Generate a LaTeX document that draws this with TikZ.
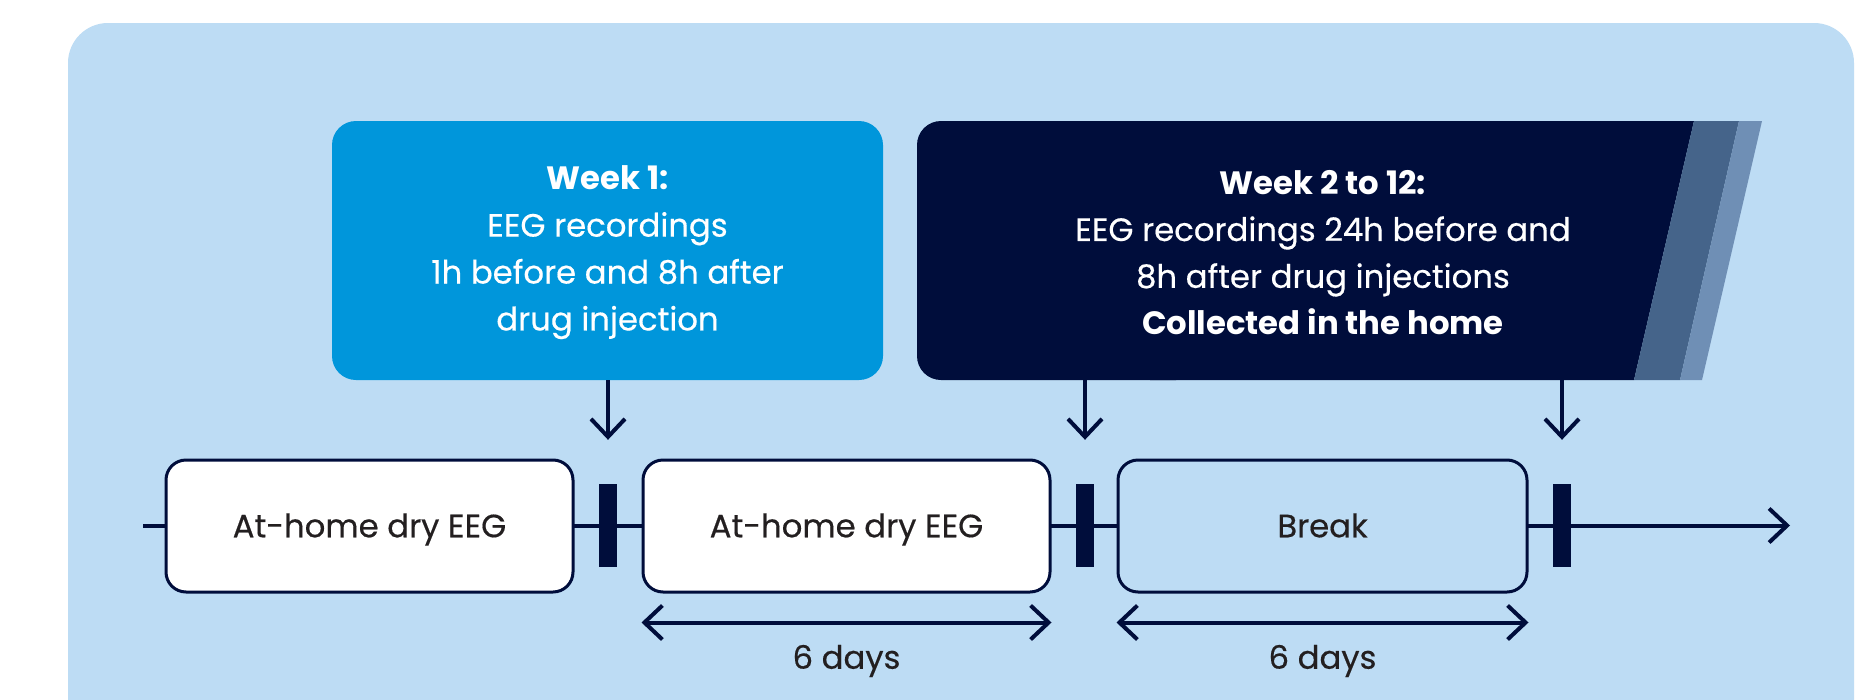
\documentclass[tikz,border=0pt]{standalone}
\usepackage{fontspec}
\setmainfont{Poppins}[UprightFeatures={FakeBold=0.4}]
\usetikzlibrary{arrows.meta}

\definecolor{panel}{HTML}{BDDCF4}
\definecolor{weekone}{HTML}{0096DB}
\definecolor{navy}{HTML}{000D3B}
\definecolor{stripemid}{HTML}{45648A}
\definecolor{stripelight}{HTML}{6F8FB5}
\definecolor{ink}{HTML}{231F20}

\tikzset{
  txt/.style={font=\fontsize{32.3pt}{46.9pt}\selectfont, align=center},
  card/.style={txt, text=white, inner sep=0pt, minimum width=551pt, minimum height=259pt},
  phase/.style={txt, text=ink, draw=navy, line width=3pt, rounded corners=20pt,
                minimum width=407pt, minimum height=132pt, inner sep=0pt,
                text height=22.5pt, text depth=0pt},
  tick/.style={fill=navy, inner sep=0pt, minimum width=18pt, minimum height=83pt},
  conn/.style={draw=navy, line width=4pt},
  tip/.style={-{Straight Barb[length=18pt,width=34pt]}},
  span/.style={{Straight Barb[length=18pt,width=34pt]}-{Straight Barb[length=18pt,width=34pt]}},
  lbl/.style={txt, text=ink, inner sep=0pt, text height=22.5pt, text depth=0pt},
}

\begin{document}
\begin{tikzpicture}[x=1pt,y=-1pt]
\useasboundingbox (0,0) rectangle (1872,699);
\fill[white] (0,0) rectangle (1872,699);

% light panel behind everything, running off the bottom edge
\begin{scope}
  \clip (0,0) rectangle (1872,699);
  \fill[panel, rounded corners=40pt] (68,23) rectangle (1854,780);
\end{scope}

% week 1 card
\node[card, fill=weekone, rounded corners=24pt] (w1) at (607.5,250.5) {};
\node[txt, text=white, inner sep=0pt] (w1txt) at (607.5,252.5)
  {\bfseries Week 1:\\EEG recordings\\1h before and 8h after\\drug injection};

% weeks 2-12 card: rounded left side, slanted right edge with two stripes
\fill[navy, rounded corners=24pt] (917,121) rectangle (1200,380);
\fill[navy] (1150,121) -- (1694,121) -- (1634,380) -- (1150,380) -- cycle;
\fill[stripemid] (1694,121) -- (1739,121) -- (1680,380) -- (1634,380) -- cycle;
\fill[stripelight] (1739,121) -- (1762,121) -- (1702,380) -- (1680,380) -- cycle;
\node[inner sep=0pt, minimum width=777pt, minimum height=259pt] (w2) at (1305.5,250.5) {};
\node[txt, text=white, inner sep=0pt] (w2txt) at (1323,252.5)
  {\bfseries Week 2 to 12:\\EEG recordings 24h before and\\8h after drug injections\\\bfseries Collected in the home};

% timeline axis
\coordinate (axstart) at (143,525.5);
\coordinate (axend) at (1790,525.5);
\draw[conn, tip] (axstart) -- (axend);

% phases on the axis
\node[phase, fill=white] (p1) at (369.5,526) {At-home dry EEG};
\node[phase, fill=white] (p2) at (846.5,526) {At-home dry EEG};
\node[phase, fill=panel, minimum width=409pt] (p3) at (1322.5,526) {Break};

% injection ticks
\node[tick] (k1) at (608,525.5) {};
\node[tick] (k2) at (1085,525.5) {};
\node[tick] (k3) at (1562,525.5) {};

% arrows from the cards down to the ticks
\draw[conn, tip] (w1.south -| k1.north) -- ([yshift=44pt]k1.north);
\draw[conn, tip] (w2.south -| k2.north) -- ([yshift=44pt]k2.north);
\draw[conn, tip] (w2.south -| k3.north) -- ([yshift=44pt]k3.north);

% durations
\draw[conn, span] ([yshift=-29pt]p2.south west) -- ([yshift=-29pt]p2.south east);
\draw[conn, span] ([yshift=-29pt]p3.south west) -- ([yshift=-29pt]p3.south east);
\node[lbl] (d2) at (846.5,657.5) {6 days};
\node[lbl] (d3) at (1322.5,657.5) {6 days};
\end{tikzpicture}
\end{document}
